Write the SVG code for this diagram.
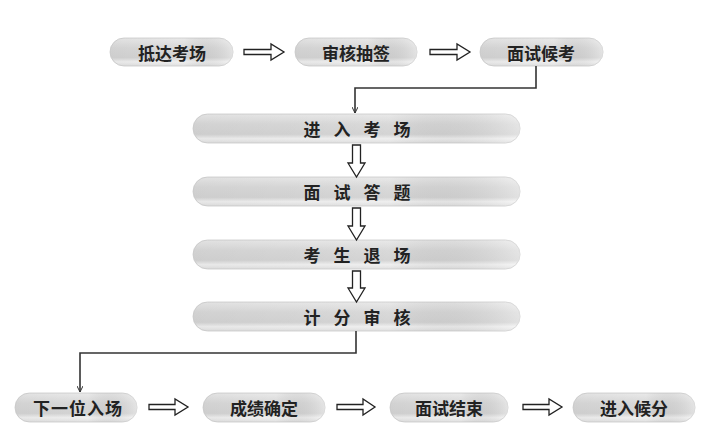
<svg xmlns="http://www.w3.org/2000/svg" width="713" height="435" viewBox="0 0 713 435">
<defs>
<linearGradient id="pg" x1="0" y1="0" x2="0" y2="1">
<stop offset="0" stop-color="#eeeeee"/>
<stop offset="0.35" stop-color="#dddddd"/>
<stop offset="0.7" stop-color="#d8d8d8"/>
<stop offset="0.85" stop-color="#f4f4f4"/>
<stop offset="1" stop-color="#e4e4e4"/>
</linearGradient>
<linearGradient id="ph" x1="0" y1="0" x2="1" y2="0">
<stop offset="0" stop-color="#000" stop-opacity="0.05"/>
<stop offset="0.6" stop-color="#000" stop-opacity="0.02"/>
<stop offset="1" stop-color="#fff" stop-opacity="0.25"/>
</linearGradient>
<marker id="ah" viewBox="0 0 6 6" refX="6" refY="3" markerWidth="6" markerHeight="6" orient="auto" markerUnits="userSpaceOnUse">
<path d="M0,0 L6,3 L0,6" fill="none" stroke="#333" stroke-width="1"/>
</marker>
</defs>
<style>
.pill{fill:url(#pg);stroke:#d4d4d4;stroke-width:1}
.sh{fill:url(#ph)}
.t{font-family:"Noto Sans CJK SC","Noto Sans",sans-serif;font-size:17px;font-weight:bold;fill:#222;text-anchor:middle;dominant-baseline:central}
.ar{fill:#fff;stroke:#222;stroke-width:1.3;stroke-linejoin:miter}
.cn{fill:none;stroke:#333;stroke-width:1.6}
</style>
<rect width="713" height="435" fill="#fff"/>

<g id="n1"><rect class="pill" x="110" y="38" width="123" height="28" rx="14"/><rect class="sh" x="110" y="38" width="123" height="28" rx="14"/><text class="t" x="172" y="52">抵达考场</text></g>
<g id="n2"><rect class="pill" x="295" y="38" width="122" height="28" rx="14"/><rect class="sh" x="295" y="38" width="122" height="28" rx="14"/><text class="t" x="356" y="52">审核抽签</text></g>
<g id="n3"><rect class="pill" x="480" y="38" width="123" height="28" rx="14"/><rect class="sh" x="480" y="38" width="123" height="28" rx="14"/><text class="t" x="541" y="52">面试候考</text></g>

<g id="n4"><rect class="pill" x="193" y="114" width="327" height="29" rx="14.5"/><rect class="sh" x="193" y="114" width="327" height="29" rx="14.5"/><text class="t" x="363.5" y="128.5" letter-spacing="13">进入考场</text></g>
<g id="n5"><rect class="pill" x="193" y="177" width="327" height="29" rx="14.5"/><rect class="sh" x="193" y="177" width="327" height="29" rx="14.5"/><text class="t" x="363.5" y="191.5" letter-spacing="13">面试答题</text></g>
<g id="n6"><rect class="pill" x="193" y="240" width="327" height="29" rx="14.5"/><rect class="sh" x="193" y="240" width="327" height="29" rx="14.5"/><text class="t" x="363.5" y="254.5" letter-spacing="13">考生退场</text></g>
<g id="n7"><rect class="pill" x="193" y="302" width="327" height="29" rx="14.5"/><rect class="sh" x="193" y="302" width="327" height="29" rx="14.5"/><text class="t" x="363.5" y="316.5" letter-spacing="13">计分审核</text></g>

<g id="n8"><rect class="pill" x="15" y="393" width="122" height="29" rx="14.5"/><rect class="sh" x="15" y="393" width="122" height="29" rx="14.5"/><text class="t" x="78" y="407.5" letter-spacing="1">下一位入场</text></g>
<g id="n9"><rect class="pill" x="203" y="393" width="122" height="29" rx="14.5"/><rect class="sh" x="203" y="393" width="122" height="29" rx="14.5"/><text class="t" x="264" y="407.5">成绩确定</text></g>
<g id="n10"><rect class="pill" x="390" y="393" width="118" height="29" rx="14.5"/><rect class="sh" x="390" y="393" width="118" height="29" rx="14.5"/><text class="t" x="449" y="407.5">面试结束</text></g>
<g id="n11"><rect class="pill" x="573" y="393" width="122" height="29" rx="14.5"/><rect class="sh" x="573" y="393" width="122" height="29" rx="14.5"/><text class="t" x="634" y="407.5">进入候分</text></g>

<g id="connectors">
<path class="ar" d="M244,49.5 H271 V44 L284,52 L271,60 V54.5 H244 Z"/>
<path class="ar" d="M430,49.5 H457 V44 L470,52 L457,60 V54.5 H430 Z"/>
<path class="cn" d="M536,66 V88 H355 V113" marker-end="url(#ah)"/>
<path class="ar" d="M352.5,145 V163 H348 L356.5,177 L365,163 H360.5 V145 Z"/>
<path class="ar" d="M352.5,208 V226 H348 L356.5,240 L365,226 H360.5 V208 Z"/>
<path class="ar" d="M352.5,271 V288 H348 L356.5,302 L365,288 H360.5 V271 Z"/>
<path class="cn" d="M356,331 V353 H80 V392" marker-end="url(#ah)"/>
<path class="ar" d="M149,404.5 H175 V399 L188,407 L175,415 V409.5 H149 Z"/>
<path class="ar" d="M337,404.5 H363 V399 L375,407 L363,415 V409.5 H337 Z"/>
<path class="ar" d="M523,404.5 H549 V399 L562,407 L549,415 V409.5 H523 Z"/>
</g>
</svg>
